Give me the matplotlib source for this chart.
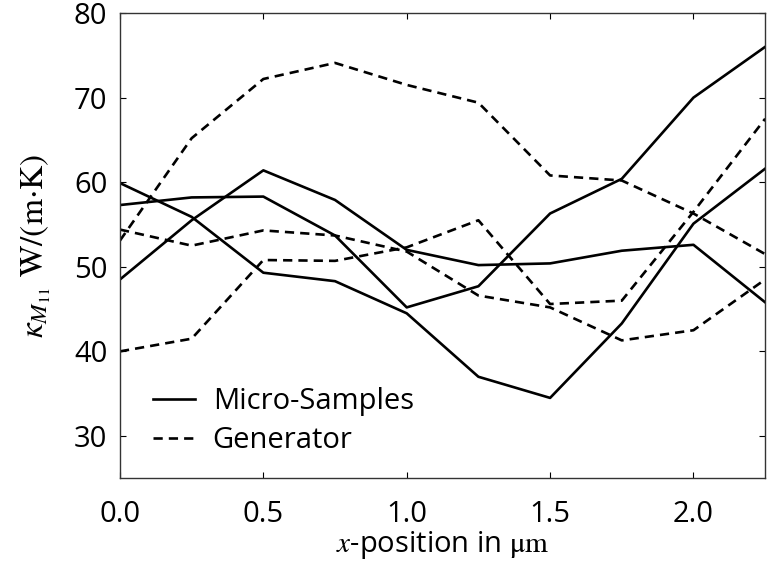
import matplotlib
matplotlib.use("Agg")
import matplotlib.pyplot as plt

plt.rcParams['font.family'] = ['Open Sans', 'DejaVu Sans']
plt.rcParams['mathtext.fontset'] = 'stix'

x = [0.0, 0.25, 0.5, 0.75, 1.0, 1.25, 1.5, 1.75, 2.0, 2.25]

micro_1 = [48.5, 55.5, 61.4, 57.9, 52.0, 50.2, 50.4, 51.9, 52.6, 45.8]
micro_2 = [57.3, 58.2, 58.3, 53.7, 45.2, 47.7, 56.3, 60.4, 70.0, 76.0]
micro_3 = [59.9, 55.9, 49.3, 48.3, 44.5, 37.0, 34.5, 43.3, 55.1, 61.6]

gen_1 = [53.1, 65.2, 72.2, 74.1, 71.5, 69.4, 60.8, 60.2, 56.3, 51.5]
gen_2 = [54.4, 52.5, 54.3, 53.7, 51.8, 46.6, 45.2, 41.3, 42.5, 48.5]
gen_3 = [40.0, 41.5, 50.8, 50.7, 52.3, 55.5, 45.6, 46.0, 56.5, 67.5]

xticks = [0.0, 0.5, 1.0, 1.5, 2.0]
yticks = [30, 40, 50, 60, 70, 80]

fig = plt.figure(figsize=(7.69, 5.66), dpi=100)
ax = fig.add_axes([0.156, 0.155, 0.839, 0.822])

lw = 1.9
for i, s in enumerate([micro_1, micro_2, micro_3]):
    ax.plot(x, s, color='black', lw=lw, linestyle='-',
            label='Micro-Samples' if i == 0 else None)
for i, s in enumerate([gen_1, gen_2, gen_3]):
    ax.plot(x, s, color='black', lw=lw, linestyle=(0, (3.5, 2.3)),
            label='Generator' if i == 0 else None)

ax.set_xlim(0, 2.25)
ax.set_ylim(25, 80)
ax.set_xticks(xticks)
ax.set_xticklabels([f"{t:.1f}" for t in xticks])
ax.set_yticks(yticks)
ax.set_yticklabels([str(t) for t in yticks])
ax.tick_params(direction='in', top=True, right=True, length=4, width=0.8,
               labelsize=21, colors='black')
ax.tick_params(axis='x', pad=16)
ax.tick_params(axis='y', pad=9)
for sp in ax.spines.values():
    sp.set_color('#333333')
    sp.set_linewidth(1.0)

ax.set_xlabel(r'$x$-position in $\mathrm{\mu m}$', fontsize=21, labelpad=0)
ax.set_ylabel(r'$\kappa_{M_{11}}\ \mathrm{W/(m{\cdot}K)}$', fontsize=24, labelpad=15)

ax.legend(loc='lower left', frameon=False, fontsize=21, handlelength=1.45,
          bbox_to_anchor=(0.033, 0.025), handletextpad=0.6, labelspacing=0.35,
          borderaxespad=0)

fig.savefig('out.png', dpi=100)
